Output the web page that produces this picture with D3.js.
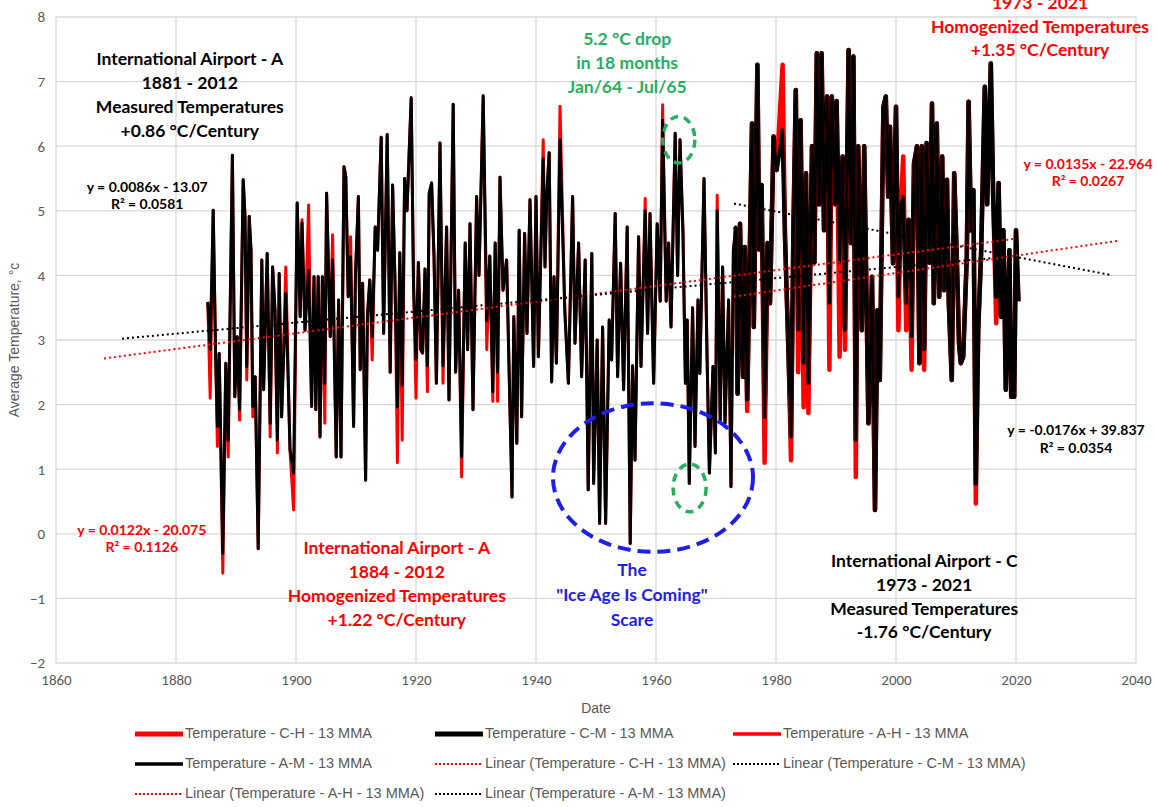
<!DOCTYPE html>
<html>
<head>
<meta charset="utf-8">
<script src="https://cdn.jsdelivr.net/npm/d3@7"></script>
<style>
  body { margin: 0; background: #fff; }
  svg { display: block; }
</style>
</head>
<body>
<svg id="chart" width="1157" height="807"></svg>
<script>
// ---- data: airport A (13 month moving average, turning points)
const aYears = [
  1885.3, 1885.7, 1886.2, 1886.6, 1886.9, 1887.2, 1887.8, 1888.3, 1888.7, 1889.4,
  1889.8, 1890.2, 1890.6, 1891.2, 1891.5, 1891.8, 1892.2, 1892.5, 1892.8, 1893.2,
  1893.7, 1894.3, 1894.6, 1895.2, 1895.7, 1896.1, 1896.5, 1896.9, 1897.2, 1897.6,
  1898.3, 1899.0, 1899.6, 1900.2, 1900.7, 1901.0, 1901.5, 1902.1, 1902.6, 1903.0,
  1903.3, 1903.7, 1904.0, 1904.4, 1904.8, 1905.1, 1905.7, 1906.1, 1906.7, 1907.1,
  1907.5, 1908.0, 1908.3, 1908.7, 1909.1, 1909.6, 1909.9, 1910.4, 1910.7, 1911.1,
  1911.6, 1911.9, 1912.3, 1912.7, 1913.2, 1913.6, 1914.2, 1914.6, 1915.2, 1915.7,
  1916.1, 1916.5, 1916.9, 1917.3, 1917.7, 1918.1, 1918.5, 1919.2, 1919.6, 1920.0,
  1920.4, 1920.8, 1921.1, 1921.5, 1921.9, 1922.2, 1922.6, 1923.0, 1923.4, 1924.0,
  1924.5, 1925.1, 1925.5, 1926.2, 1926.6, 1927.1, 1927.6, 1928.2, 1928.6, 1929.0,
  1929.5, 1930.1, 1930.5, 1931.2, 1931.8, 1932.3, 1932.8, 1933.2, 1933.6, 1934.0,
  1934.5, 1935.1, 1936.0, 1936.3, 1936.8, 1937.2, 1937.6, 1938.1, 1938.5, 1939.0,
  1939.6, 1940.0, 1940.4, 1941.2, 1941.5, 1941.8, 1942.2, 1942.6, 1943.0, 1943.4,
  1944.0, 1944.8, 1945.4, 1946.1, 1946.5, 1947.1, 1947.6, 1948.2, 1948.7, 1949.3,
  1949.6, 1950.2, 1950.6, 1951.1, 1951.6, 1952.2, 1952.6, 1953.2, 1953.6, 1954.1,
  1954.6, 1955.2, 1955.7, 1956.1, 1956.5, 1957.1, 1957.5, 1958.2, 1958.6, 1959.0,
  1959.6, 1960.2, 1960.7, 1961.1, 1961.7, 1962.1, 1962.5, 1963.2, 1963.6, 1964.0,
  1964.5, 1964.9, 1965.2, 1965.55, 1966.1, 1966.5, 1967.0, 1967.3, 1968.0, 1968.5,
  1968.9, 1969.5, 1969.9, 1970.2, 1970.7, 1971.1, 1971.5, 1972.1, 1972.5, 1972.9,
  1973.3, 1973.6, 1974.0, 1974.5, 1974.8, 1975.2, 1976.0, 1976.3, 1976.9, 1977.2,
  1977.6, 1978.1, 1978.6, 1979.0, 1979.6, 1980.1, 1981.1, 1981.5, 1982.1, 1982.5,
  1982.9, 1983.3, 1983.7, 1984.1, 1984.6, 1985.0, 1985.4, 1986.0, 1986.4, 1986.8,
  1987.2, 1987.6, 1988.0, 1988.5, 1988.9, 1989.3, 1989.9, 1990.1, 1990.6, 1991.1,
  1991.5, 1992.1, 1992.5, 1992.9, 1993.3, 1993.7, 1994.3, 1994.7, 1995.4, 1996.0,
  1996.5, 1996.9, 1997.3, 1997.9, 1998.3, 1998.7, 1999.0, 1999.5, 2000.0, 2000.4,
  2000.8, 2001.2, 2001.7, 2002.1, 2002.6, 2003.0, 2003.5, 2003.9, 2004.3, 2004.7,
  2005.1, 2005.6, 2006.0, 2006.3, 2006.8, 2007.2, 2007.7, 2008.0, 2008.5, 2008.8,
  2009.3, 2009.7, 2010.1, 2010.5, 2010.8, 2011.2, 2011.8, 2012.1, 2012.5
];
const amTemps = [
  3.59, 2.85, 5.01, 2.79, 1.66, 2.79, -0.30, 2.64, 1.45, 5.86,
  2.12, 3.05, 1.92, 5.48, 4.91, 2.59, 4.91, 4.39, 1.97, 2.43,
  -0.23, 4.24, 2.23, 4.34, 1.71, 4.13, 3.46, 1.45, 4.03, 1.81,
  3.72, 1.30, 0.94, 5.12, 3.36, 4.81, 3.15, 4.08, 1.97, 3.98,
  1.92, 3.98, 1.50, 3.98, 2.33, 5.27, 3.05, 4.24, 1.19, 3.62,
  1.19, 5.68, 5.53, 3.67, 4.29, 1.66, 3.98, 5.22, 2.54, 3.88,
  0.83, 3.36, 3.93, 3.05, 4.75, 4.39, 6.14, 3.10, 6.18, 2.50,
  5.40, 3.90, 1.96, 4.35, 2.30, 5.50, 5.00, 6.75, 3.80, 2.70,
  4.20, 2.85, 2.80, 4.10, 2.60, 5.27, 5.43, 4.30, 2.33, 6.05,
  2.60, 4.75, 2.07, 6.65, 2.50, 3.77, 1.19, 4.50, 2.85, 4.80,
  1.92, 5.22, 4.00, 6.78, 3.30, 4.30, 2.20, 4.50, 2.50, 5.52,
  3.77, 4.24, 0.57, 3.36, 1.40, 4.70, 1.81, 4.65, 3.10, 5.17,
  2.59, 5.22, 2.74, 5.80, 4.13, 5.27, 5.90, 2.35, 3.98, 2.64,
  6.10, 3.46, 2.33, 5.22, 2.95, 4.50, 2.43, 4.24, 0.68, 4.34,
  0.78, 3.00, 0.16, 3.20, 0.16, 3.31, 2.69, 4.96, 2.43, 4.19,
  2.23, 4.75, -0.15, 2.60, 1.14, 4.60, 2.59, 5.00, 3.10, 4.96,
  2.33, 4.80, 3.60, 6.40, 3.60, 4.50, 3.20, 6.20, 4.00, 6.10,
  4.65, 2.33, 3.31, 0.78, 3.50, 1.35, 3.62, 2.48, 5.50, 2.79,
  0.94, 2.59, 1.25, 5.00, 1.76, 4.13, 1.71, 3.62, 0.73, 4.39,
  4.75, 2.17, 4.80, 2.43, 4.44, 2.07, 6.35, 3.20, 7.26, 4.40,
  5.40, 1.80, 4.50, 3.57, 6.15, 5.63, 6.25, 4.60, 2.74, 1.50,
  4.70, 6.87, 3.15, 6.40, 2.64, 5.58, 2.33, 6.00, 4.20, 7.44,
  5.10, 7.44, 4.70, 6.77, 3.57, 6.77, 5.10, 6.70, 4.20, 5.84,
  3.15, 7.49, 4.50, 7.39, 1.45, 6.00, 3.15, 6.00, 1.71, 3.98,
  0.37, 3.46, 2.38, 6.61, 6.77, 5.22, 6.30, 4.19, 6.61, 3.67,
  5.10, 5.22, 3.57, 4.86, 3.05, 5.73, 6.00, 2.64, 6.00, 2.85,
  6.05, 4.20, 6.66, 3.57, 6.35, 3.67, 5.84, 3.77, 5.48, 3.57,
  2.38, 5.58, 4.39, 2.95, 2.64, 2.74, 4.29, 6.69, 4.70
];
const ahTemps = [
  3.59, 2.10, 5.01, 2.79, 1.35, 2.79, -0.61, 2.64, 1.19, 5.86,
  2.12, 3.05, 1.76, 5.48, 4.91, 2.38, 4.91, 4.39, 1.81, 2.43,
  -0.23, 4.24, 2.23, 4.34, 1.50, 4.13, 3.46, 1.25, 4.03, 1.81,
  4.13, 1.30, 0.37, 5.12, 3.36, 4.86, 3.15, 5.09, 1.97, 3.98,
  1.92, 3.98, 1.50, 3.98, 1.71, 5.27, 3.05, 4.63, 1.19, 3.62,
  1.19, 5.68, 5.53, 3.67, 4.60, 1.66, 3.98, 5.22, 2.54, 3.88,
  0.83, 3.36, 3.93, 2.69, 4.75, 4.39, 6.14, 3.10, 6.18, 2.50,
  5.40, 3.90, 1.10, 4.35, 1.45, 5.50, 5.00, 6.75, 3.80, 2.10,
  4.20, 2.85, 2.80, 4.10, 2.20, 5.27, 5.43, 4.30, 2.33, 6.05,
  2.33, 4.75, 2.07, 6.65, 2.50, 3.77, 0.88, 4.50, 2.85, 4.80,
  1.92, 5.22, 4.00, 6.78, 2.85, 4.30, 2.05, 4.50, 2.05, 5.52,
  3.77, 4.24, 0.57, 3.36, 1.40, 4.70, 1.81, 4.65, 3.10, 5.17,
  2.59, 5.22, 2.74, 6.10, 4.13, 5.27, 5.90, 2.35, 3.98, 2.64,
  6.62, 3.46, 2.33, 5.22, 2.95, 4.50, 2.43, 4.24, 0.68, 4.34,
  0.78, 3.00, 0.16, 3.20, 0.16, 3.31, 2.69, 4.96, 2.43, 4.19,
  2.23, 4.75, -0.15, 2.60, 1.14, 4.60, 2.59, 5.19, 3.10, 4.96,
  2.33, 4.80, 3.60, 6.64, 3.60, 4.50, 3.20, 6.20, 4.00, 6.10,
  4.65, 2.33, 3.31, 0.78, 3.50, 1.35, 3.62, 2.48, 5.50, 2.79,
  0.94, 2.59, 1.25, 5.24, 1.76, 4.13, 1.71, 3.62, 0.73, 4.39,
  4.75, 2.17, 4.80, 2.43, 4.44, 1.90, 6.35, 3.20, 7.26, 4.40,
  5.40, 1.10, 4.50, 3.57, 6.15, 5.63, 7.26, 4.60, 2.74, 1.14,
  4.70, 6.87, 2.50, 6.40, 1.96, 5.58, 1.87, 6.00, 4.20, 7.44,
  5.10, 7.44, 4.70, 6.77, 2.54, 6.77, 5.10, 6.70, 2.74, 5.84,
  2.85, 7.49, 4.50, 7.39, 0.88, 6.00, 3.15, 6.00, 1.71, 3.98,
  0.37, 3.46, 2.38, 6.61, 6.77, 5.22, 6.30, 4.19, 6.61, 3.15,
  5.10, 5.84, 3.15, 4.86, 2.54, 5.73, 6.00, 2.64, 6.00, 2.54,
  6.05, 4.20, 6.66, 3.57, 6.35, 3.67, 5.84, 3.77, 5.48, 3.57,
  2.38, 5.58, 4.39, 2.95, 2.64, 2.74, 4.29, 6.69, 4.70
];

// ---- data: airport C
const cYears = [
  1973.3, 1973.6, 1974.0, 1974.5, 1974.8, 1975.2, 1976.0, 1976.3, 1976.9, 1977.2,
  1977.6, 1978.1, 1978.6, 1979.0, 1979.6, 1980.1, 1981.1, 1981.5, 1982.1, 1982.5,
  1982.9, 1983.3, 1983.7, 1984.1, 1984.6, 1985.0, 1985.4, 1986.0, 1986.4, 1986.8,
  1987.2, 1987.6, 1988.0, 1988.5, 1988.9, 1989.3, 1989.9, 1990.1, 1990.6, 1991.1,
  1991.5, 1992.1, 1992.5, 1992.9, 1993.3, 1993.7, 1994.3, 1994.7, 1995.4, 1996.0,
  1996.5, 1996.9, 1997.3, 1997.9, 1998.3, 1998.7, 1999.0, 1999.5, 2000.0, 2000.4,
  2000.8, 2001.2, 2001.7, 2002.1, 2002.6, 2003.0, 2003.5, 2003.9, 2004.3, 2004.7,
  2005.1, 2005.6, 2006.0, 2006.3, 2006.8, 2007.2, 2007.7, 2008.0, 2008.5, 2008.8,
  2009.3, 2009.7, 2010.1, 2010.5, 2010.8, 2011.2, 2011.8, 2012.1, 2012.5, 2012.9,
  2013.3, 2013.7, 2014.2, 2014.8, 2015.2, 2015.8, 2016.2, 2016.7, 2017.1, 2017.5,
  2017.9, 2018.3, 2018.9, 2019.2, 2019.7, 2020.0, 2020.4
];
const cmTemps = [
  4.75, 2.17, 4.80, 2.43, 4.44, 2.07, 6.35, 3.20, 7.26, 4.40,
  5.40, 1.80, 4.50, 3.57, 6.15, 5.63, 6.25, 4.60, 2.74, 1.50,
  4.70, 6.87, 3.15, 6.40, 2.64, 5.58, 2.33, 6.00, 4.20, 7.44,
  5.10, 7.44, 4.70, 6.77, 3.57, 6.77, 5.10, 6.70, 4.20, 5.84,
  3.15, 7.49, 4.50, 7.39, 1.45, 6.00, 3.15, 6.00, 1.71, 3.98,
  0.37, 3.46, 2.38, 6.61, 6.77, 5.22, 6.30, 4.19, 6.61, 3.67,
  5.10, 5.22, 3.57, 4.86, 3.05, 5.73, 6.00, 2.64, 6.00, 2.85,
  6.05, 4.20, 6.66, 3.57, 6.35, 3.67, 5.84, 3.77, 5.48, 3.57,
  2.38, 5.58, 4.39, 2.95, 2.64, 2.74, 4.29, 6.69, 4.70, 5.32,
  0.78, 3.15, 4.39, 6.92, 5.10, 7.28, 5.22, 3.67, 5.43, 3.36,
  4.70, 2.23, 4.39, 2.12, 2.12, 4.70, 3.60
];
const chTemps = [
  4.75, 2.17, 4.80, 2.43, 4.44, 1.90, 6.35, 3.20, 7.26, 4.40,
  5.40, 1.10, 4.50, 3.57, 6.15, 5.63, 7.26, 4.60, 2.74, 1.14,
  4.70, 6.87, 2.50, 6.40, 1.96, 5.58, 1.87, 6.00, 4.20, 7.44,
  5.10, 7.44, 4.70, 6.77, 2.54, 6.77, 5.10, 6.70, 2.74, 5.84,
  2.85, 7.49, 4.50, 7.39, 0.88, 6.00, 3.15, 6.00, 1.71, 3.98,
  0.37, 3.46, 2.38, 6.61, 6.77, 5.22, 6.30, 4.19, 6.61, 3.15,
  5.10, 5.84, 3.15, 4.86, 2.54, 5.73, 6.00, 2.64, 6.00, 2.54,
  6.05, 4.20, 6.66, 3.57, 6.35, 3.67, 5.84, 3.77, 5.48, 3.57,
  2.38, 5.58, 4.39, 2.95, 2.64, 2.74, 4.29, 6.69, 4.70, 5.32,
  0.47, 3.15, 4.39, 6.92, 5.10, 7.28, 5.22, 3.26, 5.43, 3.36,
  4.70, 2.23, 4.39, 2.12, 2.12, 4.70, 3.60
];

// linear trend lines (slope, intercept, first year, last year)
const trendNames = ['C-H', 'C-M', 'A-H', 'A-M'];
const trendSlopes = [0.0135, -0.0176, 0.0122, 0.0086];
const trendIntercepts = [-22.964, 39.837, -20.075, -13.07];
const trendStarts = [1973, 1973, 1868, 1871];
const trendEnds = [2037, 2036, 2020, 2020];

const xTicks = d3.range(1860, 2041, 20);
const yTicks = d3.range(-2, 9, 1);

// ---- layout
const svg = d3.select('#chart');
const width = 1157, height = 807;
const margin = { top: 17, right: 21, bottom: 144, left: 56 };

const x = d3.scaleLinear().domain([1860, 2040]).range([margin.left, width - margin.right]);
const y = d3.scaleLinear().domain([-2, 8]).range([height - margin.bottom, margin.top]);

const grey = '#595959';
const gridColor = '#d9d9d9';
const red = '#ff0000';

// gridlines
svg.append('g')
  .selectAll('line.h')
  .data(yTicks)
  .join('line')
  .attr('x1', x(1860)).attr('x2', x(2040))
  .attr('y1', d => y(d)).attr('y2', d => y(d))
  .attr('stroke', gridColor).attr('stroke-width', 1.3);

svg.append('g')
  .selectAll('line.v')
  .data(xTicks)
  .join('line')
  .attr('x1', d => x(d)).attr('x2', d => x(d))
  .attr('y1', y(-2)).attr('y2', y(8))
  .attr('stroke', gridColor).attr('stroke-width', 1.3);

// axes (labels only, Excel style)
const xAxis = svg.append('g')
  .attr('transform', `translate(0, ${y(-2) + 6})`)
  .call(d3.axisBottom(x).tickValues(xTicks).tickFormat(d3.format('d')).tickSize(0));
const yAxis = svg.append('g')
  .attr('transform', `translate(${x(1860) - 8}, 0)`)
  .call(d3.axisLeft(y).tickValues(yTicks).tickFormat(d3.format('d')).tickSize(0));
[xAxis, yAxis].forEach(g => {
  g.select('.domain').remove();
  g.selectAll('text')
    .attr('fill', grey)
    .style('font-family', 'Carlito, "Liberation Sans", Arial, sans-serif')
    .style('font-size', '15px');
});
xAxis.selectAll('text').attr('dy', '0.85em');

svg.append('text')
  .attr('x', x(1950)).attr('y', 713)
  .attr('text-anchor', 'middle')
  .attr('fill', grey)
  .style('font-family', '"Liberation Sans", Arial, sans-serif')
  .style('font-size', '14px')
  .text('Date');

svg.append('text')
  .attr('transform', `translate(19, ${y(3)}) rotate(-90)`)
  .attr('text-anchor', 'middle')
  .attr('fill', grey)
  .style('font-family', '"Liberation Sans", Arial, sans-serif')
  .style('font-size', '14px')
  .text('Average Temperature, °c');

// ---- series
const line = d3.line().x(d => x(d[0])).y(d => y(d[1]));

const series = [
  { name: 'Temperature - C-H - 13 MMA', years: cYears, temps: chTemps, color: red, w: 4.5 },
  { name: 'Temperature - C-M - 13 MMA', years: cYears, temps: cmTemps, color: '#000', w: 4.5 },
  { name: 'Temperature - A-H - 13 MMA', years: aYears, temps: ahTemps, color: red, w: 3 },
  { name: 'Temperature - A-M - 13 MMA', years: aYears, temps: amTemps, color: '#000', w: 3 }
];

svg.append('g')
  .selectAll('path')
  .data(series)
  .join('path')
  .attr('d', s => line(s.years.map((yr, i) => [yr, s.temps[i]])))
  .attr('fill', 'none')
  .attr('stroke', s => s.color)
  .attr('stroke-width', s => s.w)
  .attr('stroke-linejoin', 'round');

// trend lines
const trends = trendNames.map((n, i) => ({
  name: `Linear (Temperature - ${n} - 13 MMA)`,
  color: n.endsWith('H') ? red : '#000',
  pts: [trendStarts[i], trendEnds[i]].map(yr => [yr, trendSlopes[i] * yr + trendIntercepts[i]])
}));

svg.append('g')
  .selectAll('path')
  .data(trends)
  .join('path')
  .attr('d', t => line(t.pts))
  .attr('fill', 'none')
  .attr('stroke', t => t.color)
  .attr('stroke-width', 2)
  .attr('stroke-dasharray', '2,3');

// ---- annotations
const boldFont = 'Lato, Carlito, "Liberation Sans", sans-serif';

function block(lines, yr, val, color, size, gap) {
  svg.append('g')
    .selectAll('text')
    .data(lines)
    .join('text')
    .attr('x', x(yr))
    .attr('y', (d, i) => y(val) + i * gap)
    .attr('text-anchor', 'middle')
    .attr('dominant-baseline', 'middle')
    .attr('fill', color)
    .style('font-family', boldFont)
    .style('font-weight', 'bold')
    .style('font-size', size + 'px')
    .text(d => d);
}

block(['International Airport - A', '1881 - 2012', 'Measured Temperatures', '+0.86 °C/Century'],
  1882.3, 7.32, '#000', 17.5, 23.7);
block(['International Airport - A', '1884 - 2012', 'Homogenized Temperatures', '+1.22 °C/Century'],
  1916.8, -0.25, red, 17.5, 23.7);
block(['International Airport - C', '1973 - 2021', 'Homogenized Temperatures', '+1.35 °C/Century'],
  2024, 8.56, red, 17.5, 23.7);
block(['International Airport - C', '1973 - 2021', 'Measured Temperatures', '-1.76 °C/Century'],
  2004.7, -0.45, '#000', 17.5, 23.7);
block(['5.2 °C drop', 'in 18 months', 'Jan/64 - Jul/65'], 1955.2, 7.63, '#27ae60', 17.5, 24);
block(['The', '"Ice Age Is Coming"', 'Scare'], 1956, -0.59, '#1f1fe6', 17.5, 25);

block(['y = 0.0086x - 13.07', 'R² = 0.0581'], 1875.2, 5.35, '#000', 14, 17.5);
block(['y = 0.0122x - 20.075', 'R² = 0.1126'], 1874.3, 0.04, red, 14, 17.5);
block(['y = 0.0135x - 22.964', 'R² = 0.0267'], 2032.0, 5.71, red, 14, 17.5);
block(['y = -0.0176x + 39.837', 'R² = 0.0354'], 2030.0, 1.58, '#000', 14, 17.5);

// circled areas: [centre year, centre value, half width (years), half height (deg)]
const ellipses = [
  { c: [1959.5, 0.87], r: [16.67, 1.15], color: '#1f1fe6', w: 4, dash: '13,7' },
  { c: [1963.8, 6.10], r: [2.67, 0.36], color: '#27ae60', w: 3.5, dash: '8,6' },
  { c: [1965.6, 0.71], r: [2.75, 0.37], color: '#27ae60', w: 3.5, dash: '8,6' }
];
svg.append('g')
  .selectAll('ellipse')
  .data(ellipses)
  .join('ellipse')
  .attr('cx', d => x(d.c[0]))
  .attr('cy', d => y(d.c[1]))
  .attr('rx', d => x(d.c[0] + d.r[0]) - x(d.c[0]))
  .attr('ry', d => y(d.c[1] - d.r[1]) - y(d.c[1]))
  .attr('fill', 'none')
  .attr('stroke', d => d.color)
  .attr('stroke-width', d => d.w)
  .attr('stroke-dasharray', d => d.dash);

// ---- legend
const legendItems = [
  ...series.map(s => ({ name: s.name, color: s.color, w: s.w + 0.5, dash: null })),
  ...trends.map(t => ({ name: t.name, color: t.color, w: 2, dash: '2,2' }))
];
const colX = [135, 435, 733];
const rowY = [734, 764, 794];

const legend = svg.append('g')
  .selectAll('g')
  .data(legendItems)
  .join('g')
  .attr('transform', (d, i) => `translate(${colX[i % 3]}, ${rowY[Math.floor(i / 3)]})`);

legend.append('line')
  .attr('x1', 0).attr('x2', 48)
  .attr('stroke', d => d.color)
  .attr('stroke-width', d => d.w)
  .attr('stroke-dasharray', d => d.dash);

legend.append('text')
  .attr('x', 50)
  .attr('dominant-baseline', 'middle')
  .attr('fill', grey)
  .style('font-family', '"Liberation Sans Narrow", "Arial Narrow", sans-serif')
  .style('font-size', '14.5px')
  .text(d => d.name);
</script>
</body>
</html>
